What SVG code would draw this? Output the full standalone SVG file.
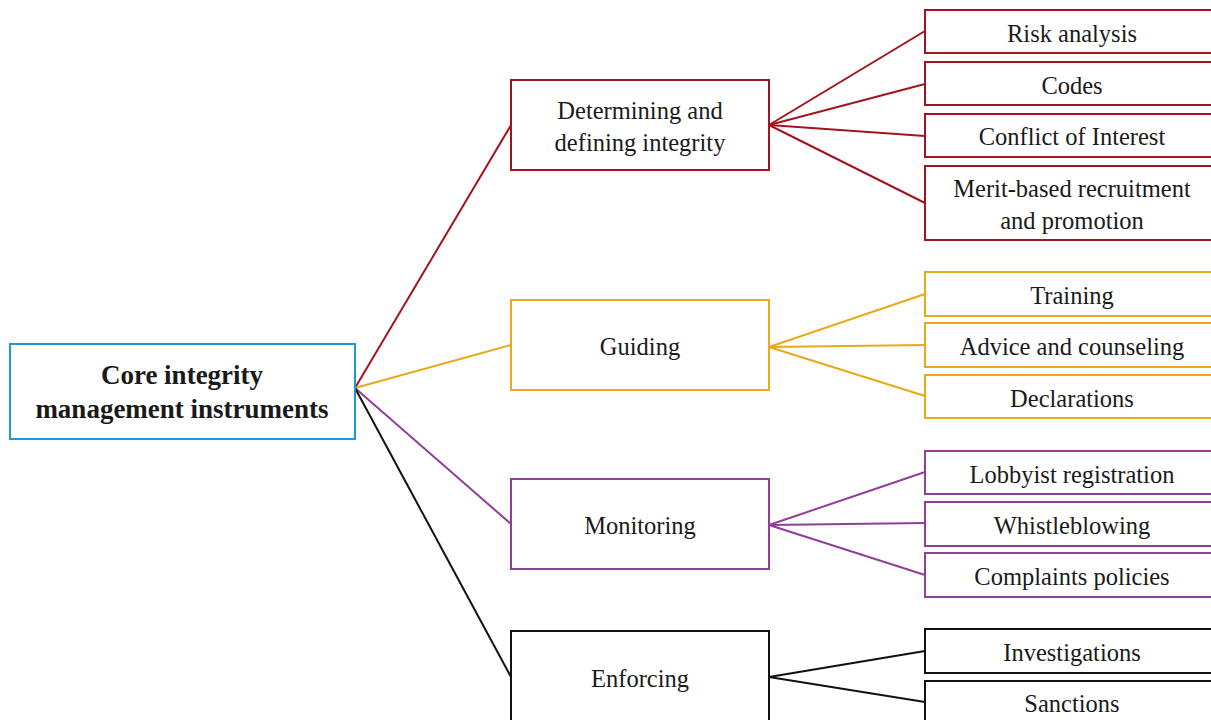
<svg xmlns="http://www.w3.org/2000/svg" width="1211" height="720" viewBox="0 0 1211 720">
<style>
rect{fill:#fff;stroke-width:2}
text{font-family:"Liberation Serif","DejaVu Serif",serif;font-size:24.5px;fill:#1a1a1a;text-anchor:middle;dominant-baseline:central}
.b{font-weight:bold;font-size:27px}
.r{stroke:#a3141f}.o{stroke:#e8a91a}.p{stroke:#8f3f97}.k{stroke:#111}.bl{stroke:#1b9ad6}
#connectors line{stroke-width:2}
</style>
<rect width="1211" height="720" fill="#fff" stroke="none"/>
<g id="connectors">
<line class="r" x1="355" y1="388" x2="511" y2="125"/>
<line class="o" x1="355" y1="388" x2="511" y2="345"/>
<line class="p" x1="355" y1="388" x2="511" y2="524"/>
<line class="k" x1="355" y1="388" x2="511" y2="677"/>
<line class="r" x1="769" y1="125" x2="925" y2="31"/>
<line class="r" x1="769" y1="125" x2="925" y2="84"/>
<line class="r" x1="769" y1="125" x2="925" y2="136"/>
<line class="r" x1="769" y1="125" x2="925" y2="203"/>
<line class="o" x1="769" y1="347" x2="925" y2="294"/>
<line class="o" x1="769" y1="347" x2="925" y2="345"/>
<line class="o" x1="769" y1="347" x2="925" y2="396"/>
<line class="p" x1="769" y1="525" x2="925" y2="472"/>
<line class="p" x1="769" y1="525" x2="925" y2="523"/>
<line class="p" x1="769" y1="525" x2="925" y2="575"/>
<line class="k" x1="769" y1="677" x2="925" y2="651"/>
<line class="k" x1="769" y1="677" x2="925" y2="702"/>
</g>
<g id="root"><rect class="bl" x="10" y="344" width="345" height="95"/><text class="b" x="182" y="375">Core integrity</text><text class="b" x="182" y="409">management instruments</text></g>
<g id="determining"><rect class="r" x="511" y="80" width="258" height="90"/><text x="640" y="110">Determining and</text><text x="640" y="142">defining integrity</text></g>
<g id="guiding"><rect class="o" x="511" y="300" width="258" height="90"/><text x="640" y="346">Guiding</text></g>
<g id="monitoring"><rect class="p" x="511" y="479" width="258" height="90"/><text x="640" y="525">Monitoring</text></g>
<g id="enforcing"><rect class="k" x="511" y="631" width="258" height="100"/><text x="640" y="678">Enforcing</text></g>
<g id="risk"><rect class="r" x="925" y="10" width="294" height="43"/><text x="1072" y="33">Risk analysis</text></g>
<g id="codes"><rect class="r" x="925" y="62" width="294" height="43"/><text x="1072" y="85">Codes</text></g>
<g id="conflict"><rect class="r" x="925" y="114" width="294" height="43"/><text x="1072" y="136">Conflict of Interest</text></g>
<g id="merit"><rect class="r" x="925" y="166" width="294" height="74"/><text x="1072" y="188">Merit-based recruitment</text><text x="1072" y="220">and promotion</text></g>
<g id="training"><rect class="o" x="925" y="272" width="294" height="44"/><text x="1072" y="295">Training</text></g>
<g id="advice"><rect class="o" x="925" y="323" width="294" height="44"/><text x="1072" y="346">Advice and counseling</text></g>
<g id="declarations"><rect class="o" x="925" y="375" width="294" height="43"/><text x="1072" y="398">Declarations</text></g>
<g id="lobbyist"><rect class="p" x="925" y="451" width="294" height="43"/><text x="1072" y="474">Lobbyist registration</text></g>
<g id="whistleblowing"><rect class="p" x="925" y="502" width="294" height="44"/><text x="1072" y="525">Whistleblowing</text></g>
<g id="complaints"><rect class="p" x="925" y="553" width="294" height="44"/><text x="1072" y="576">Complaints policies</text></g>
<g id="investigations"><rect class="k" x="925" y="629" width="294" height="44"/><text x="1072" y="652">Investigations</text></g>
<g id="sanctions"><rect class="k" x="925" y="681" width="294" height="44"/><text x="1072" y="703">Sanctions</text></g>
</svg>
